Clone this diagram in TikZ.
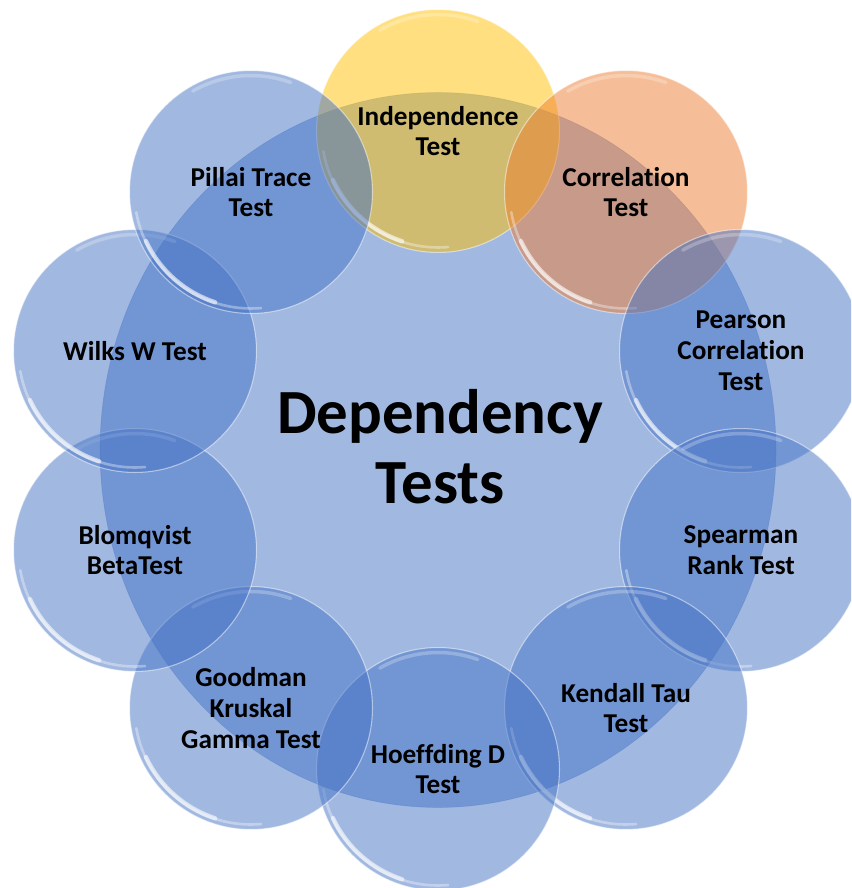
\documentclass[tikz,border=0pt]{standalone}
\usepackage{fontspec}
\setmainfont{Carlito}[Ligatures={NoCommon}]
\usetikzlibrary{shapes.geometric}

\definecolor{bubbleblue}{HTML}{4472C4}
\definecolor{bubblegold}{HTML}{FFC000}
\definecolor{bubbleorange}{HTML}{ED7D31}

\tikzset{
  bubble/.style={circle, inner sep=0pt, minimum size=4.86cm,
    fill=#1, fill opacity=0.5, draw=white, draw opacity=0.5, line width=0.6pt,
    path picture={
      \draw[white, opacity=0.35, line width=1.5pt, line cap=round]
        (path picture bounding box.center) ++(190:2.33cm)
        arc[start angle=190, end angle=275, radius=2.33cm];
      \draw[white, opacity=0.6, line width=2.5pt, line cap=round]
        (path picture bounding box.center) ++(205:2.32cm)
        arc[start angle=205, end angle=252, radius=2.32cm];
      \draw[white, opacity=0.25, line width=2pt, line cap=round]
        (path picture bounding box.center) ++(70:2.33cm)
        arc[start angle=70, end angle=120, radius=2.33cm];
    }},
  bubble/.default=bubbleblue,
  hub/.style={ellipse, inner sep=0pt, minimum width=13.52cm, minimum height=14.3cm,
    fill=bubbleblue, fill opacity=0.5, draw=bubbleblue, draw opacity=0.3},
  bubbletext/.style={align=center, font={\fontsize{15.5}{17.5}\selectfont\bfseries}},
  hubtext/.style={align=center, font={\fontsize{35.8}{40}\selectfont\bfseries}}
}

\begin{document}
\begin{tikzpicture}[x=0.02cm, y=-0.02cm]
\useasboundingbox (0,0) rectangle (851,888);
\clip (0,0) rectangle (851,888);

% centre and ring of bubbles
\node[hub] (hub) at (438,450) {};
\node[bubble=bubblegold] (indep) at (438,131) {};
\node[bubble=bubbleorange] (corr) at (626,192) {};
\node[bubble] (pearson) at (741,351) {};
\node[bubble] (spearman) at (741,550) {};
\node[bubble] (kendall) at (626,708) {};
\node[bubble] (hoeffding) at (438,769) {};
\node[bubble] (goodman) at (251,708) {};
\node[bubble] (blomqvist) at (135,550) {};
\node[bubble] (wilks) at (135,351) {};
\node[bubble] (pillai) at (251,192) {};

% texts on top
\node[hubtext] (hubtitle) at (440,447) {Dependency\\Tests};
\node[bubbletext] (indeptext) at (indep) {Independence\\Test};
\node[bubbletext] (corrtext) at (corr) {Correlation\\Test};
\node[bubbletext] (pearsontext) at (pearson) {Pearson\\Correlation\\Test};
\node[bubbletext] (spearmantext) at (spearman) {Spearman\\Rank Test};
\node[bubbletext] (kendalltext) at (kendall) {Kendall Tau\\Test};
\node[bubbletext] (hoeffdingtext) at (hoeffding) {Hoeffding D\\Test};
\node[bubbletext] (goodmantext) at (goodman) {Goodman\\Kruskal\\Gamma Test};
\node[bubbletext] (blomqvisttext) at (blomqvist) {Blomqvist\\BetaTest};
\node[bubbletext] (wilkstext) at (wilks) {Wilks W Test};
\node[bubbletext] (pillaitext) at (pillai) {Pillai Trace\\Test};
\end{tikzpicture}
\end{document}
